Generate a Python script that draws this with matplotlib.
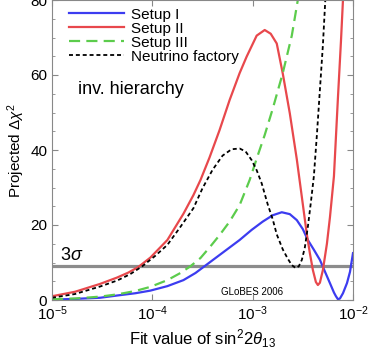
#! /usr/bin/env python3
"""Projected delta chi^2 vs fit value of sin^2 2theta13 (inverted hierarchy)."""

import matplotlib
matplotlib.use('Agg')
import matplotlib.pyplot as plt
import numpy as np
from matplotlib.ticker import MultipleLocator, LogLocator, NullLocator

plt.rcParams['font.family'] = ['Liberation Sans', 'DejaVu Sans']
plt.rcParams['mathtext.fontset'] = 'custom'
plt.rcParams['mathtext.rm'] = 'Liberation Sans'
plt.rcParams['mathtext.it'] = 'Liberation Sans:italic'

# x values are given as log10(sin^2 2theta13)
# Setup I (blue)
logx_setup1 = [-5.00, -4.77, -4.52, -4.35, -4.17, -4.02, -3.85, -3.69, -3.57,
               -3.48, -3.35, -3.23, -3.13, -3.01, -2.90, -2.80, -2.71, -2.63,
               -2.56, -2.50, -2.45, -2.39, -2.33, -2.28, -2.23, -2.19, -2.17,
               -2.15, -2.13, -2.10, -2.06, -2.03, -2.00]
y_setup1 = [0.1, 0.3, 0.6, 1.2, 1.8, 2.5, 3.7, 5.3, 7.2,
            9.0, 11.6, 14.0, 16.0, 18.7, 20.9, 22.6, 23.4, 22.9,
            21.3, 18.9, 16.0, 13.4, 10.7, 7.6, 4.5, 2.0, 1.0,
            0.2, 0.4, 1.8, 4.5, 7.5, 12.5]

# Setup II (red)
logx_setup2 = [-5.00, -4.77, -4.52, -4.35, -4.24, -4.14, -4.02, -3.85, -3.69,
               -3.59, -3.52, -3.43, -3.33, -3.23, -3.13, -3.06, -2.96, -2.88,
               -2.82, -2.76, -2.70, -2.63, -2.56, -2.51, -2.46, -2.43, -2.40,
               -2.37, -2.35, -2.33, -2.30, -2.26, -2.23, -2.19, -2.15, -2.12,
               -2.10, -2.08]
y_setup2 = [1.0, 2.2, 4.3, 6.0, 7.3, 8.8, 11.3, 16.0, 23.0,
            28.0, 32.0, 38.0, 45.3, 53.3, 60.5, 64.9, 70.5, 72.0,
            71.0, 68.4, 60.4, 49.8, 37.5, 27.5, 17.5, 12.5, 8.0,
            4.8, 4.0, 4.6, 8.0, 15.0, 22.0, 33.0, 54.0, 69.0,
            80.0, 92.0]

# Setup III (green)
logx_setup3 = [-5.00, -4.77, -4.52, -4.35, -4.17, -4.02, -3.85, -3.72, -3.62,
               -3.52, -3.43, -3.33, -3.23, -3.13, -3.03, -2.95, -2.88, -2.80,
               -2.70, -2.61, -2.55, -2.51]
y_setup3 = [0.2, 0.4, 0.9, 1.5, 2.4, 3.5, 5.3, 7.2, 9.0,
            11.2, 14.0, 17.3, 20.9, 25.3, 32.0, 38.5, 44.0, 51.0,
            60.5, 70.5, 80.0, 87.0]

# Neutrino factory (black)
logx_nufact = [-5.00, -4.77, -4.52, -4.35, -4.22, -4.10, -3.97, -3.85, -3.72,
               -3.59, -3.50, -3.40, -3.30, -3.21, -3.13, -3.07, -3.01, -2.96,
               -2.91, -2.85, -2.80, -2.76, -2.70, -2.65, -2.61, -2.57, -2.54,
               -2.51, -2.48, -2.45, -2.42, -2.39, -2.36, -2.33, -2.30, -2.28,
               -2.26]
y_nufact = [0.6, 1.6, 3.6, 5.2, 6.9, 9.0, 11.8, 14.7, 19.5,
            24.5, 29.8, 34.7, 38.5, 40.2, 40.4, 39.6, 37.3, 34.6,
            31.1, 25.5, 21.5, 17.5, 13.5, 11.0, 9.3, 8.5, 9.0,
            10.7, 14.0, 19.5, 26.0, 33.0, 44.0, 56.0, 68.0, 78.0,
            88.0]

sigma3 = 9.0


def main():
    fig = plt.figure(figsize=(3.73, 3.57), dpi=100)
    ax = fig.add_axes([52 / 373, 1 - 300 / 357, 301 / 373, 300 / 357])

    ax.axhline(sigma3, color='#8c8c8c', lw=2.3, zorder=1)
    ax.plot(10 ** np.array(logx_setup1), y_setup1, color='#3c3cf0', lw=1.6,
            label='Setup I')
    ax.plot(10 ** np.array(logx_setup2), y_setup2, color='#e8484c', lw=1.6,
            label='Setup II')
    ax.plot(10 ** np.array(logx_setup3), y_setup3, color='#5ccc4c', lw=1.6,
            ls=(0, (5, 2.8)), label='Setup III')
    ax.plot(10 ** np.array(logx_nufact), y_nufact, color='black', lw=1.3,
            ls=(0, (2.2, 1.6)), label='Neutrino factory')

    ax.set_xscale('log')
    ax.set_xlim(1e-5, 1e-2)
    ax.set_ylim(0, 80)
    ax.xaxis.set_major_locator(LogLocator(base=10, numticks=10))
    ax.xaxis.set_minor_locator(NullLocator())
    ax.yaxis.set_major_locator(MultipleLocator(20))
    ax.yaxis.set_minor_locator(MultipleLocator(5))

    for side in ax.spines.values():
        side.set_color('#888888')
        side.set_linewidth(0.8)
    ax.tick_params(which='both', direction='in', top=True, right=True,
                   color='#888888', labelsize=11)
    ax.tick_params(which='major', length=4)
    ax.tick_params(which='minor', length=2.5)

    ax.set_xlabel(r'Fit value of sin$^2$2$\theta_{13}$', fontsize=12, labelpad=3)
    ax.set_ylabel(r'Projected $\Delta\chi^2$', fontsize=11, labelpad=2)

    ax.text(60 / 373, 1 - 255 / 357, r'3$\sigma$', transform=fig.transFigure,
            fontsize=13, va='center', ha='left')
    ax.text(78 / 373, 1 - 90 / 357, 'inv. hierarchy', transform=fig.transFigure,
            fontsize=13, va='center', ha='left')
    ax.text(252 / 373, 1 - 292 / 357, 'GLoBES 2006', transform=fig.transFigure,
            fontsize=7, va='center', ha='center')

    ax.legend(loc='upper left', bbox_to_anchor=(0.035, 0.995), frameon=False,
              fontsize=11, handlelength=3.6, handletextpad=0.45,
              labelspacing=0.0, borderaxespad=0.0)

    fig.savefig('out.png', dpi=100)


if __name__ == '__main__':
    main()
